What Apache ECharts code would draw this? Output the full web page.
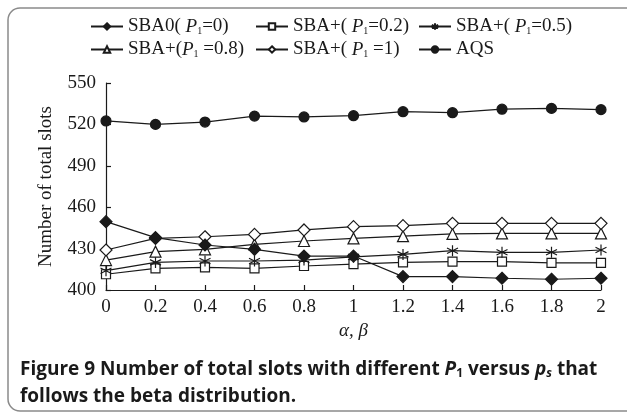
<!DOCTYPE html>
<html>
<head>
<meta charset="utf-8">
<script src="https://cdn.jsdelivr.net/npm/echarts@6/dist/echarts.min.js"></script>
<style>
  html, body { margin: 0; padding: 0; background: #fff; }
  #chart { width: 627px; height: 414px; }
</style>
</head>
<body>
<div id="chart"></div>
<script>
// α, β values on the horizontal axis
const alphaBeta = [0, 0.2, 0.4, 0.6, 0.8, 1, 1.2, 1.4, 1.6, 1.8, 2];
const yTicks = [400, 430, 460, 490, 520, 550];

// number of total slots per scheme
const sba0 = [449.5, 438, 432.6, 429.5, 424.6, 424.6, 409.7, 409.7, 408.5, 407.8, 408.5];
const sbaP02 = [411.4, 415.7, 416.4, 415.7, 417.4, 418.8, 420, 420.5, 420.5, 419.7, 419.7];
const sbaP05 = [414, 420, 421, 421, 421.7, 424, 425.8, 428.5, 427.3, 427.3, 429];
const sbaP08 = [421.7, 427.8, 429.5, 433, 435.5, 437.4, 439, 440.6, 441, 441, 441];
const sbaP1 = [429, 437.4, 438.6, 440.3, 443.5, 445.9, 446.6, 448.3, 448.3, 448.3, 448.3];
const aqs = [522.5, 520, 521.7, 526, 525.4, 526.3, 529.2, 528.5, 531, 531.6, 530.7];

const SERIF = 'Liberation Serif';
const INK = '#1a1a1a';
const STAR = 'path://M5,0L5,10M0.7,2.5L9.3,7.5M9.3,2.5L0.7,7.5';

const pairs = arr => alphaBeta.map((x, i) => [x, arr[i]]);

const seriesDefs = [
  { name: 'sba0', label: 'SBA0( {i|P}{s|1}=0)', data: sba0, symbol: 'diamond', size: 12, fill: INK },
  { name: 'p02', label: 'SBA+( {i|P}{s|1}=0.2)', data: sbaP02, symbol: 'rect', size: 9, fill: '#fff' },
  { name: 'p05', label: 'SBA+( {i|P}{s|1}=0.5)', data: sbaP05, symbol: STAR, size: 11, fill: 'none' },
  { name: 'p08', label: 'SBA+({i|P}{s|1} =0.8)', data: sbaP08, symbol: 'triangle', size: 11, fill: '#fff' },
  { name: 'p1', label: 'SBA+( {i|P}{s|1} =1)', data: sbaP1, symbol: 'diamond', size: 12, fill: '#fff' },
  { name: 'aqs', label: 'AQS', data: aqs, symbol: 'circle', size: 10, fill: INK }
];

const labelOf = {};
seriesDefs.forEach(d => { labelOf[d.name] = d.label; });

// legend placement: two rows of three
const legendSlots = [
  [85, 12], [250, 12], [413, 12],
  [85, 35], [250, 35], [413, 35]
];

const legends = seriesDefs.map((d, i) => ({
  data: [d.name],
  left: legendSlots[i][0],
  top: legendSlots[i][1],
  itemWidth: 32,
  itemHeight: 8,
  itemGap: 0,
  selectedMode: false,
  formatter: n => labelOf[n],
  textStyle: {
    fontFamily: SERIF,
    fontSize: 19,
    color: INK,
    rich: {
      i: { fontFamily: SERIF, fontStyle: 'italic', fontSize: 19, color: INK },
      s: { fontFamily: SERIF, fontSize: 10, color: INK, padding: [10, 0, 0, 0] }
    }
  }
}));

const series = seriesDefs.map(d => ({
  name: d.name,
  type: 'line',
  data: pairs(d.data),
  symbol: d.symbol,
  symbolSize: d.size,
  showAllSymbol: true,
  z: d.name === 'sba0' ? 3 : 2,
  lineStyle: { color: INK, width: 1.2 },
  itemStyle: { color: d.fill, borderColor: INK, borderWidth: 1.2 },
  emphasis: { disabled: true },
  animation: false
}));

const chart = echarts.init(document.getElementById('chart'));
chart.setOption({
  animation: false,
  backgroundColor: '#fff',
  legend: legends,
  grid: { left: 106, right: 26, top: 83, bottom: 124, containLabel: false },
  xAxis: {
    type: 'value',
    min: 0, max: 2, interval: 0.2,
    name: 'α, β',
    nameLocation: 'middle',
    nameGap: 31,
    nameTextStyle: { fontFamily: SERIF, fontStyle: 'italic', fontSize: 19, color: INK },
    axisLine: { lineStyle: { color: INK, width: 1.2 } },
    axisTick: { inside: true, length: 5, lineStyle: { color: INK, width: 1.2 } },
    splitLine: { show: false },
    axisLabel: {
      fontFamily: SERIF, fontSize: 19, color: INK, margin: 8,
      formatter: v => String(+v.toFixed(1))
    }
  },
  yAxis: {
    type: 'value',
    min: yTicks[0], max: yTicks[yTicks.length - 1], interval: 30,
    name: 'Number of total slots',
    nameLocation: 'middle',
    nameGap: 50,
    nameTextStyle: { fontFamily: SERIF, fontSize: 19, color: INK },
    axisLine: { show: true, lineStyle: { color: INK, width: 1.2 } },
    axisTick: { show: true, inside: true, length: 5, lineStyle: { color: INK, width: 1.2 } },
    splitLine: { show: false },
    axisLabel: { fontFamily: SERIF, fontSize: 19, color: INK, margin: 10 }
  },
  graphic: [
    {
      type: 'rect',
      shape: { x: 8, y: 8, width: 700, height: 403, r: 12 },
      style: { fill: 'none', stroke: '#8a8a8a', lineWidth: 1.5 },
      silent: true
    },
    {
      type: 'text',
      left: 20, top: 356,
      style: {
        text: '{b|Figure 9} Number of total slots with different {i|P}{s|1} versus {i|p}{s2|s} that\nfollows the beta distribution.',
        fontFamily: 'Open Sans', fontWeight: 'bold', fontSize: 19, fill: '#1a1a1a',
        lineHeight: 27,
        rich: {
          b: { fontFamily: 'Open Sans', fontWeight: 'bold', fontSize: 19, fill: '#1a1a1a' },
          i: { fontFamily: 'Open Sans', fontWeight: 'bold', fontStyle: 'italic', fontSize: 19, fill: '#1a1a1a' },
          s: { fontFamily: 'Open Sans', fontWeight: 'bold', fontSize: 12, fill: '#1a1a1a', padding: [9, 0, 0, 0] },
          s2: { fontFamily: 'Open Sans', fontWeight: 'bold', fontStyle: 'italic', fontSize: 12, fill: '#1a1a1a', padding: [9, 0, 0, 0] }
        }
      }
    }
  ],
  series: series
});
</script>
</body>
</html>
